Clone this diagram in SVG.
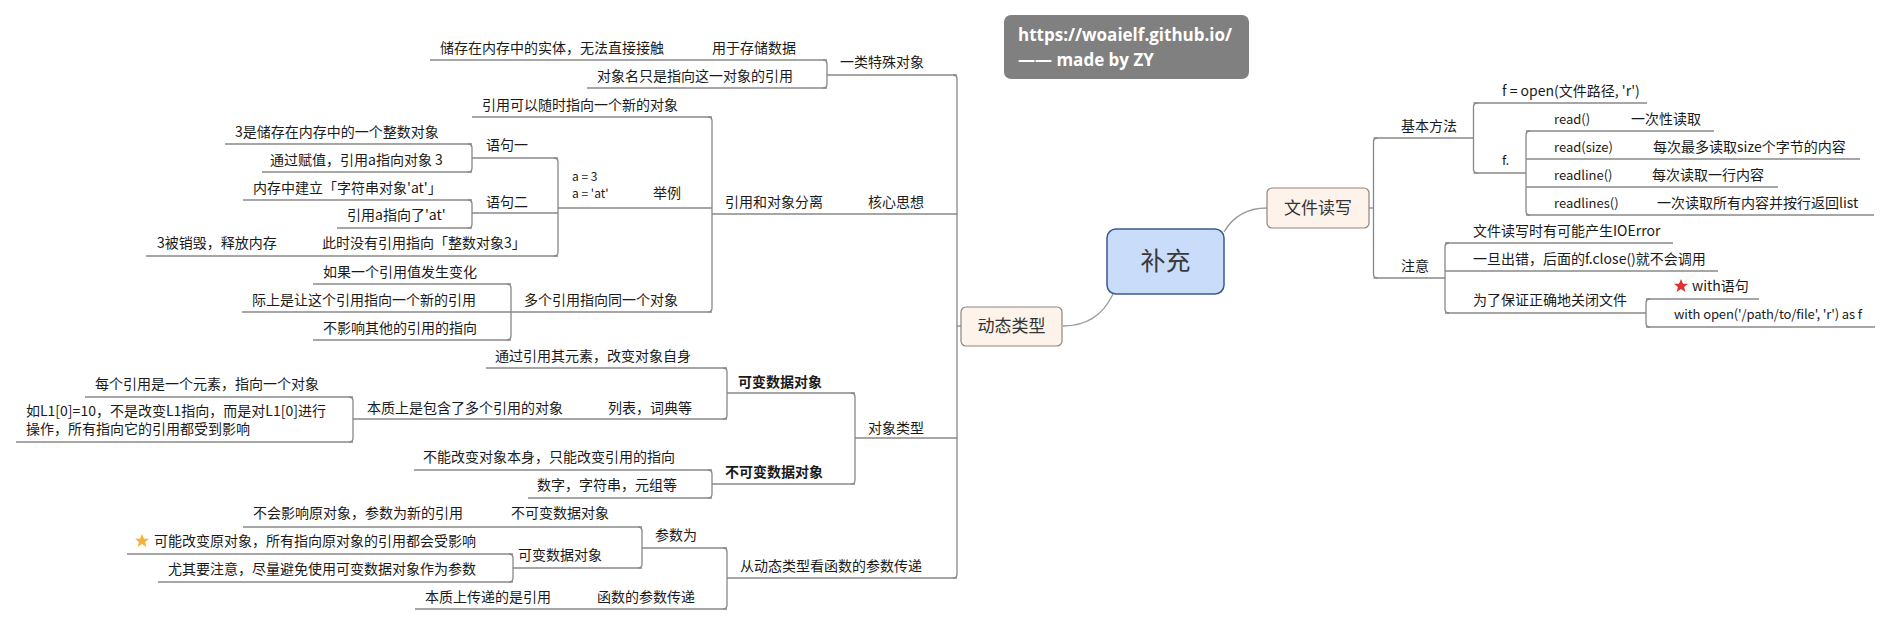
<svg xmlns="http://www.w3.org/2000/svg" width="1891" height="626" viewBox="0 0 1891 626">
<style>
.t{font-family:"Noto Sans CJK SC","Noto Sans",sans-serif;font-size:14px;fill:#1a1a1a}
.s{font-size:12px}
.l{font-size:13px}
.b{font-weight:bold}
.u{stroke:#888;stroke-width:1.3;fill:none}
.c{stroke:#999;stroke-width:1.3;fill:none}
.box{fill:#fdf3eb;stroke:#8f8580;stroke-width:1.2}
.mt{font-family:"Noto Sans CJK SC","Noto Sans",sans-serif;font-size:17px;fill:#333}
</style>
<defs>
<polygon id="star" points="0,-7 2,-2.3 7,-2.2 3.1,1 4.4,6 0,3.1 -4.4,6 -3.1,1 -7,-2.2 -2,-2.3"/>
</defs>
<rect width="1891" height="626" fill="#fff"/>

<g id="watermark">
<rect x="1004" y="15" width="245" height="64" rx="7" fill="#808080"/>
<text x="1018" y="41" font-family="'Open Sans',sans-serif" font-weight="bold" font-size="17" fill="#fff">https://woaielf.github.io/</text>
<text x="1018" y="66" font-family="'Open Sans',sans-serif" font-weight="bold" font-size="17" fill="#fff">—— made by ZY</text>
</g>

<g id="connectors">
<path class="c" d="M1113 294 Q1098 326 1063 326"/>
<path class="c" d="M1224 232 Q1238 208 1267 208"/>
<path class="u" d="M953 75 Q957 75 957 79 V574 Q957 578 953 578"/>
<path class="u" d="M957 326 H961"/>
<path class="u" d="M823 60 Q827 60 827 64 V84 Q827 88 823 88"/>
<path class="u" d="M708 117 Q712 117 712 121 V308 Q712 312 708 312"/>
<path class="u" d="M554 158 Q558 158 558 162 V252 Q558 256 554 256"/>
<path class="u" d="M468 144 Q472 144 472 148 V168 Q472 172 468 172"/>
<path class="u" d="M468 200 Q472 200 472 204 V224 Q472 228 468 228"/>
<path class="u" d="M507 284 Q511 284 511 288 V336 Q511 340 507 340"/>
<path class="u" d="M851 393 Q855 393 855 397 V480 Q855 484 851 484"/>
<path class="u" d="M723 368 Q727 368 727 372 V415 Q727 419 723 419"/>
<path class="u" d="M349 397 Q353 397 353 401 V438 Q353 442 349 442"/>
<path class="u" d="M708 470 Q712 470 712 474 V494 Q712 498 708 498"/>
<path class="u" d="M723 548 Q727 548 727 552 V605 Q727 609 723 609"/>
<path class="u" d="M638 527 Q642 527 642 531 V564 Q642 568 638 568"/>
<path class="u" d="M509 554 Q513 554 513 558 V578 Q513 582 509 582"/>
<path class="u" d="M1369 208 H1373.5"/>
<path class="u" d="M1377.5 138 Q1373.5 138 1373.5 142 V274 Q1373.5 278 1377.5 278"/>
<path class="u" d="M1477.5 103 Q1473.5 103 1473.5 107 V169 Q1473.5 173 1477.5 173"/>
<path class="u" d="M1530 131 Q1526 131 1526 135 V211 Q1526 215 1530 215"/>
<path class="u" d="M1449 243 Q1445 243 1445 247 V309 Q1445 313 1449 313"/>
<path class="u" d="M1650 299 Q1646 299 1646 303 V323 Q1646 327 1650 327"/>
</g>

<g id="root">
<rect x="1107" y="229" width="117" height="65" rx="9" fill="#c9dcfa" stroke="#3b5a8f" stroke-width="1.5"/>
<text x="1165.5" y="270" text-anchor="middle" font-family="'Noto Sans CJK SC',sans-serif" font-size="25" fill="#3a3a3a">补充</text>
</g>

<g id="n-dongtai">
<rect class="box" x="961" y="307" width="101" height="39" rx="5"/>
<text class="mt" x="1011.5" y="332" text-anchor="middle">动态类型</text>
</g>

<g id="n-wenjian">
<rect class="box" x="1267" y="188" width="102" height="40" rx="5"/>
<text class="mt" x="1318" y="214" text-anchor="middle">文件读写</text>
</g>

<g id="n-teshu"><path class="u" d="M827 75 H957"/><text class="t" x="840" y="67">一类特殊对象</text></g>
<g id="n-cunchu"><path class="u" d="M430 60 H827"/><text class="t" x="712" y="53">用于存储数据</text></g>
<g id="n-shiti"><text class="t" x="440" y="53">储存在内存中的实体，无法直接接触</text></g>
<g id="n-duixiangming"><path class="u" d="M587 88 H827"/><text class="t" x="597" y="81">对象名只是指向这一对象的引用</text></g>

<g id="n-hexin"><path class="u" d="M712 214 H957"/><text class="t" x="868" y="207">核心思想</text></g>
<g id="n-fenli"><text class="t" x="725" y="207">引用和对象分离</text></g>
<g id="n-suishi"><path class="u" d="M472 117 H712"/><text class="t" x="482" y="110">引用可以随时指向一个新的对象</text></g>
<g id="n-juli"><path class="u" d="M558 208 H712"/><text class="t" x="653" y="198">举例</text></g>
<g id="n-a3"><text class="t s" x="572" y="181">a = 3</text><text class="t s" x="572" y="198">a = 'at'</text></g>
<g id="n-yuju1"><path class="u" d="M472 158 H558"/><text class="t" x="486" y="150">语句一</text></g>
<g id="n-y1a"><path class="u" d="M225 144 H472"/><text class="t" x="235" y="137">3是储存在内存中的一个整数对象</text></g>
<g id="n-y1b"><path class="u" d="M262 172 H472"/><text class="t" x="270" y="165">通过赋值，引用a指向对象 3</text></g>
<g id="n-yuju2"><path class="u" d="M472 213 H558"/><text class="t" x="486" y="207">语句二</text></g>
<g id="n-y2a"><path class="u" d="M243 200 H472"/><text class="t" x="253" y="193">内存中建立「字符串对象'at'」</text></g>
<g id="n-y2b"><path class="u" d="M337 228 H472"/><text class="t" x="347" y="220">引用a指向了'at'</text></g>
<g id="n-meiyou"><path class="u" d="M146 256 H558"/><text class="t" x="322" y="248">此时没有引用指向「整数对象3」</text></g>
<g id="n-xiaohui"><text class="t" x="157" y="248">3被销毁，释放内存</text></g>
<g id="n-duoge"><path class="u" d="M511 312 H712"/><text class="t" x="524" y="305">多个引用指向同一个对象</text></g>
<g id="n-d1"><path class="u" d="M313 284 H511"/><text class="t" x="323" y="277">如果一个引用值发生变化</text></g>
<g id="n-d2"><path class="u" d="M242 312 H511"/><text class="t" x="252" y="305">际上是让这个引用指向一个新的引用</text></g>
<g id="n-d3"><path class="u" d="M313 340 H511"/><text class="t" x="323" y="333">不影响其他的引用的指向</text></g>

<g id="n-leixing"><path class="u" d="M855 438 H957"/><text class="t" x="868" y="433">对象类型</text></g>
<g id="n-kebian"><path class="u" d="M727 393 H855"/><text class="t b" x="738" y="387">可变数据对象</text></g>
<g id="n-k1"><path class="u" d="M486 368 H727"/><text class="t" x="495" y="361">通过引用其元素，改变对象自身</text></g>
<g id="n-k2"><path class="u" d="M353 419 H727"/><text class="t" x="608" y="413">列表，词典等</text></g>
<g id="n-benzhi"><text class="t" x="367" y="413">本质上是包含了多个引用的对象</text></g>
<g id="n-b1"><path class="u" d="M85 397 H353"/><text class="t" x="95" y="389">每个引用是一个元素，指向一个对象</text></g>
<g id="n-b2"><path class="u" d="M16 442 H353"/><text class="t" x="26" y="416">如L1[0]=10，不是改变L1指向，而是对L1[0]进行</text><text class="t" x="26" y="434">操作，所有指向它的引用都受到影响</text></g>
<g id="n-bukebian"><path class="u" d="M712 484 H855"/><text class="t b" x="725" y="477">不可变数据对象</text></g>
<g id="n-bk1"><path class="u" d="M414 470 H712"/><text class="t" x="423" y="462">不能改变对象本身，只能改变引用的指向</text></g>
<g id="n-bk2"><path class="u" d="M528 498 H712"/><text class="t" x="537" y="490">数字，字符串，元组等</text></g>

<g id="n-canshu"><path class="u" d="M727 578 H957"/><text class="t" x="740" y="571">从动态类型看函数的参数传递</text></g>
<g id="n-canshuwei"><path class="u" d="M642 548 H727"/><text class="t" x="655" y="540">参数为</text></g>
<g id="n-p1"><path class="u" d="M243 527 H642"/><text class="t" x="511" y="518">不可变数据对象</text></g>
<g id="n-p1a"><text class="t" x="253" y="518">不会影响原对象，参数为新的引用</text></g>
<g id="n-p2"><path class="u" d="M513 568 H642"/><text class="t" x="518" y="560">可变数据对象</text></g>
<g id="n-p2a"><path class="u" d="M127 554 H513"/><use href="#star" x="142" y="541" fill="#f0b43c"/><text class="t" x="154" y="546">可能改变原对象，所有指向原对象的引用都会受影响</text></g>
<g id="n-p2b"><path class="u" d="M158 582 H513"/><text class="t" x="168" y="574">尤其要注意，尽量避免使用可变数据对象作为参数</text></g>
<g id="n-hanshu"><path class="u" d="M415 609 H727"/><text class="t" x="597" y="602">函数的参数传递</text></g>
<g id="n-hanshu1"><text class="t" x="425" y="602">本质上传递的是引用</text></g>

<g id="n-jiben"><path class="u" d="M1373.5 138 H1473.5"/><text class="t" x="1401" y="131">基本方法</text></g>
<g id="n-open"><path class="u" d="M1473.5 103 H1647"/><text class="t" x="1502" y="96">f = open(文件路径, 'r')</text></g>
<g id="n-f"><path class="u" d="M1473.5 173 H1526"/><text class="t l" x="1502" y="165">f.</text></g>
<g id="n-read"><path class="u" d="M1526 131 H1714"/><text class="t l" x="1554" y="124">read()</text><text class="t" x="1631" y="124">一次性读取</text></g>
<g id="n-readsize"><path class="u" d="M1526 159 H1860"/><text class="t l" x="1554" y="152">read(size)</text><text class="t" x="1653" y="152">每次最多读取size个字节的内容</text></g>
<g id="n-readline"><path class="u" d="M1526 187 H1778"/><text class="t l" x="1554" y="180">readline()</text><text class="t" x="1652" y="180">每次读取一行内容</text></g>
<g id="n-readlines"><path class="u" d="M1526 215 H1874"/><text class="t l" x="1554" y="208">readlines()</text><text class="t" x="1657" y="208">一次读取所有内容并按行返回list</text></g>
<g id="n-zhuyi"><path class="u" d="M1373.5 278 H1445"/><text class="t" x="1401" y="271">注意</text></g>
<g id="n-z1"><path class="u" d="M1445 243 H1673"/><text class="t" x="1473" y="236">文件读写时有可能产生IOError</text></g>
<g id="n-z2"><path class="u" d="M1445 271 H1718"/><text class="t" x="1473" y="264">一旦出错，后面的f.close()就不会调用</text></g>
<g id="n-z3"><path class="u" d="M1445 313 H1646"/><text class="t" x="1473" y="305">为了保证正确地关闭文件</text></g>
<g id="n-with"><path class="u" d="M1646 299 H1759"/><use href="#star" x="1681" y="286" fill="#e03030"/><text class="t" x="1692" y="291">with语句</text></g>
<g id="n-withopen"><path class="u" d="M1646 327 H1875"/><text class="t l" x="1674" y="319" textLength="188">with open('/path/to/file', 'r') as f</text></g>
</svg>
